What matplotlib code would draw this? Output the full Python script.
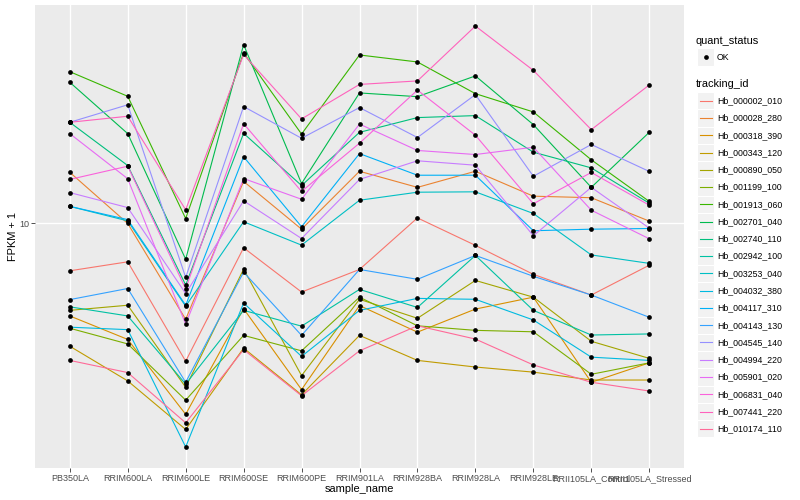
import matplotlib
matplotlib.use("Agg")
import matplotlib.pyplot as plt
import numpy as np
from matplotlib.lines import Line2D
from matplotlib.patches import Rectangle
from matplotlib.ticker import FixedLocator, FixedFormatter, NullLocator

plt.rcParams["font.family"] = ["Liberation Sans", "DejaVu Sans"]

# Data
sample_name = ["PB350LA", "RRIM600LA", "RRIM600LE", "RRIM600SE", "RRIM600PE", "RRIM901LA",
               "RRIM928BA", "RRIM928LA", "RRIM928LE", "RRII105LA_Control", "RRII105LA_Stressed"]

tracking_id = ["Hb_000002_010", "Hb_000028_280", "Hb_000318_390", "Hb_000343_120",
               "Hb_000890_050", "Hb_001199_100", "Hb_001913_060", "Hb_002701_040",
               "Hb_002740_110", "Hb_002942_100", "Hb_003253_040", "Hb_004032_380",
               "Hb_004117_310", "Hb_004143_130", "Hb_004545_140", "Hb_004994_220",
               "Hb_005901_020", "Hb_006831_040", "Hb_007441_220", "Hb_010174_110"]

quant_status = ["OK"]

# FPKM + 1 per gene, one value per sample
fpkm = [
    [8.04, 8.38, 5.30, 8.94, 7.29, 8.09, 10.26, 9.04, 7.91, 7.19, 8.25],
    [12.66, 10.00, 6.43, 12.14, 9.74, 12.72, 11.81, 12.72, 11.34, 11.26, 10.11],
    [6.53, 5.86, 4.15, 6.75, 4.65, 6.85, 6.06, 6.74, 7.12, 4.81, 5.26],
    [5.68, 4.84, 3.87, 5.63, 4.54, 5.97, 5.32, 5.16, 5.04, 4.86, 4.86],
    [6.70, 6.86, 4.70, 8.10, 4.96, 7.05, 6.46, 7.69, 7.12, 5.81, 5.37],
    [6.17, 5.74, 4.43, 5.97, 5.56, 7.12, 6.24, 6.11, 6.07, 4.99, 5.26],
    [20.13, 17.97, 10.23, 21.94, 15.10, 21.74, 21.05, 18.19, 16.72, 13.41, 11.07],
    [19.17, 15.13, 8.48, 22.80, 12.02, 18.25, 17.94, 19.74, 15.77, 11.81, 15.22],
    [15.94, 13.06, 7.53, 15.15, 11.91, 15.22, 16.29, 16.44, 13.89, 12.92, 10.98],
    [6.81, 6.53, 4.77, 6.70, 6.23, 7.38, 6.79, 8.63, 6.70, 5.98, 6.01],
    [10.82, 10.12, 6.83, 10.08, 9.05, 11.13, 11.55, 11.57, 10.47, 8.65, 8.32],
    [6.20, 6.13, 3.57, 6.93, 5.42, 6.70, 7.08, 7.05, 6.41, 5.40, 5.32],
    [10.82, 10.18, 6.86, 13.60, 9.85, 13.80, 12.49, 12.49, 9.67, 9.74, 9.77],
    [7.04, 7.41, 4.81, 7.99, 5.97, 8.09, 7.73, 8.63, 7.84, 7.19, 6.49],
    [15.94, 17.28, 7.80, 17.14, 14.81, 17.06, 14.86, 18.11, 12.43, 14.39, 12.71],
    [11.53, 10.76, 7.24, 11.10, 9.33, 12.25, 13.35, 13.08, 9.45, 11.81, 9.79],
    [15.13, 12.29, 6.29, 12.30, 11.18, 15.81, 14.00, 13.74, 14.21, 10.63, 9.32],
    [12.25, 13.02, 7.40, 15.84, 11.59, 14.48, 18.49, 15.02, 10.95, 12.65, 10.88],
    [15.94, 16.39, 10.65, 21.79, 16.19, 18.98, 19.29, 24.84, 20.25, 15.41, 18.93],
    [5.32, 5.03, 3.99, 5.59, 4.52, 5.56, 6.24, 5.87, 5.21, 4.81, 4.62],
]

# ggplot hue palette, 20 levels
colors = ["#F8766D", "#EA8331", "#D89000", "#C09B00", "#A3A500", "#7CAE00", "#39B600",
          "#00BB4E", "#00BF7D", "#00C1A3", "#00BFC4", "#00BAE0", "#00B0F6", "#35A2FF",
          "#9590FF", "#C77CFF", "#E76BF3", "#FA62DB", "#FF62BC", "#FF6A98"]

W, H = 800, 500
fig = plt.figure(figsize=(8, 5), dpi=100)
fig.patch.set_facecolor("white")
ax = fig.add_axes([35 / W, 1 - 468 / H, (684 - 35) / W, (468 - 5) / H])
ax.set_facecolor("#EBEBEB")

x = np.arange(len(sample_name))
for i, vals in enumerate(fpkm):
    ax.plot(x, vals, color=colors[i], lw=0.8, zorder=2)
for vals in fpkm:
    ax.plot(x, vals, "o", color="black", ms=3.4, mew=0, zorder=3)

ax.set_yscale("log")
allv = np.log10(np.array(fpkm))
lo, hi = allv.min(), allv.max()
pad = (hi - lo) * 0.05
ax.set_ylim(10 ** (lo - pad), 10 ** (hi + pad))
ax.set_xlim(-0.6, len(sample_name) - 0.4)
ax.yaxis.set_major_locator(FixedLocator([10]))
ax.yaxis.set_major_formatter(FixedFormatter(["10"]))
ax.yaxis.set_minor_locator(NullLocator())
ax.set_xticks(x)
ax.set_xticklabels(sample_name)
ax.grid(True, which="major", color="white", lw=1.0, zorder=0)
ax.set_axisbelow(True)
for s in ax.spines.values():
    s.set_visible(False)
ax.tick_params(axis="both", length=2.8, width=0.6, color="#333333",
               labelcolor="#4D4D4D", labelsize=6.5, pad=1.5)
ax.set_xlabel("sample_name", fontsize=7.9, labelpad=1)
ax.set_ylabel("FPKM + 1", fontsize=7.9)
ax.yaxis.set_label_coords(-(35 - 18) / (684 - 35), 0.5)


def fx(px):
    return px / W


def fy(py):
    return 1 - py / H


# Legend: quant_status
fig.text(fx(696), fy(40.7), "quant_status", fontsize=7.9, va="center", ha="left")
fig.patches.append(Rectangle((fx(697), fy(65.8)), 17 / W, 17.3 / H, transform=fig.transFigure,
                             facecolor="#F2F2F2", edgecolor="white", lw=0.8))
fig.lines.append(Line2D([fx(705.5)], [fy(57)], marker="o", ms=3.4, mew=0, color="black",
                        transform=fig.transFigure))
fig.text(fx(717), fy(57), quant_status[0], fontsize=6.3, va="center", ha="left")

# Legend: tracking_id
fig.text(fx(696), fy(84.3), "tracking_id", fontsize=7.9, va="center", ha="left")
step = 17.27
for i, name in enumerate(tracking_id):
    yc = 100.7 + step * i
    fig.patches.append(Rectangle((fx(697), fy(yc + step / 2)), 17 / W, step / H,
                                 transform=fig.transFigure, facecolor="#F2F2F2",
                                 edgecolor="white", lw=0.8))
    fig.lines.append(Line2D([fx(699.5), fx(711.5)], [fy(yc), fy(yc)], color=colors[i], lw=0.8,
                            transform=fig.transFigure))
    fig.text(fx(717), fy(yc), name, fontsize=6.3, va="center", ha="left")

fig.savefig("out.png", dpi=100)
